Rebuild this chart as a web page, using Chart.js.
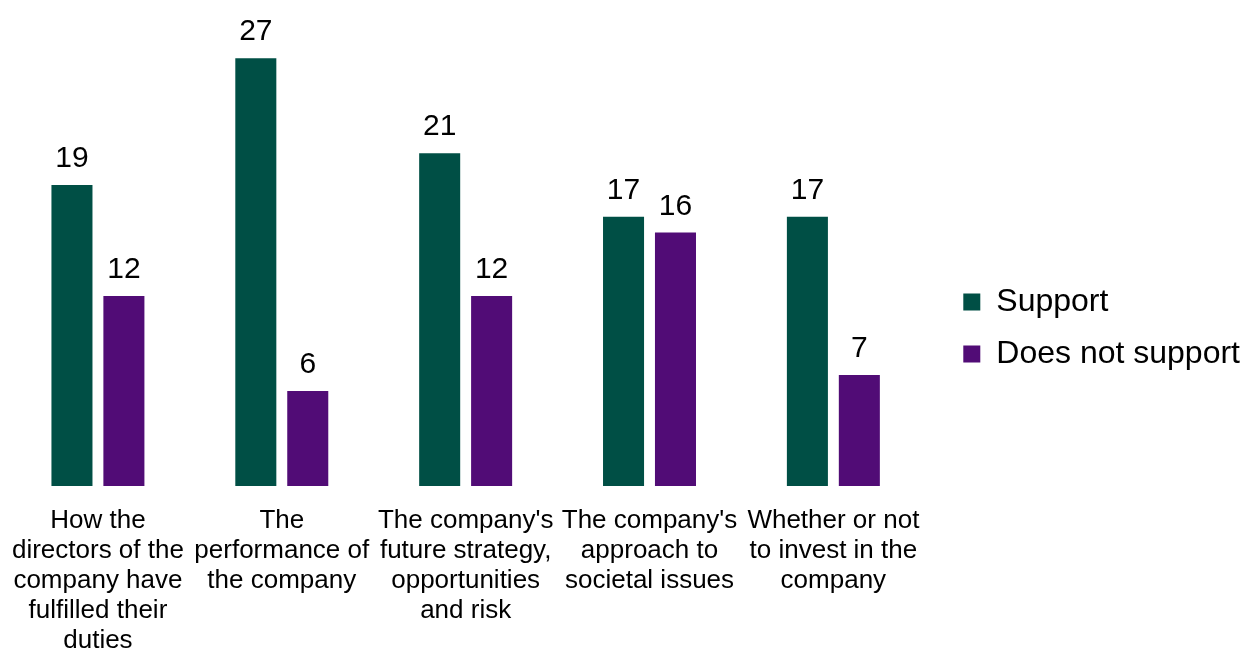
<!DOCTYPE html>
<html>
<head>
<meta charset="utf-8">
<title>Support by topic</title>
<script src="https://cdn.jsdelivr.net/npm/chart.js@4.4.1/dist/chart.umd.min.js"></script>
<style>
  html, body { margin: 0; padding: 0; background: #fff; }
  #wrap { width: 1249px; height: 650px; }
</style>
</head>
<body>
<div id="wrap"><canvas id="supportChart"></canvas></div>
<script>
const topics = [
  ['How the', 'directors of the', 'company have', 'fulfilled their', 'duties'],
  ['The', 'performance of', 'the company'],
  ["The company's", 'future strategy,', 'opportunities', 'and risk'],
  ["The company's", 'approach to', 'societal issues'],
  ['Whether or not', 'to invest in the', 'company']
];
const support = [19, 27, 21, 17, 17];
const doesNotSupport = [12, 6, 12, 16, 7];

const FONT = "'Liberation Sans', Arial, sans-serif";
const LEGEND_GAP = 18;

// value printed above each bar
const barValues = {
  id: 'barValues',
  afterDatasetsDraw(chart) {
    const ctx = chart.ctx;
    ctx.save();
    ctx.font = '30px ' + FONT;
    ctx.fillStyle = '#000';
    ctx.textAlign = 'center';
    ctx.textBaseline = 'alphabetic';
    chart.data.datasets.forEach((ds, i) => {
      chart.getDatasetMeta(i).data.forEach((bar, j) => {
        ctx.fillText(String(ds.data[j]), bar.x, bar.y - 18);
      });
    });
    ctx.restore();
  }
};

// leave some space between the plot and the legend
const legendGap = {
  id: 'legendGap',
  beforeLayout(chart) {
    const legend = chart.legend;
    if (!legend || legend._gapDone) return;
    const fit = legend.fit;
    legend.fit = function () {
      fit.call(this);
      this.width += LEGEND_GAP;
    };
    legend._gapDone = true;
  },
  afterLayout(chart) {
    if (chart.legend) chart.legend.left += LEGEND_GAP;
  }
};

new Chart(document.getElementById('supportChart'), {
  type: 'bar',
  data: {
    labels: topics,
    datasets: [
      {
        label: 'Support',
        data: support,
        backgroundColor: '#004F45',
        categoryPercentage: 0.565,
        barPercentage: 0.79
      },
      {
        label: 'Does not support',
        data: doesNotSupport,
        backgroundColor: '#510C76',
        categoryPercentage: 0.565,
        barPercentage: 0.79
      }
    ]
  },
  options: {
    responsive: true,
    maintainAspectRatio: false,
    animation: false,
    layout: { padding: { left: 6, right: -1, top: -20, bottom: -26 } },
    scales: {
      x: {
        grid: { display: false, drawTicks: false },
        border: { display: false },
        ticks: {
          color: '#000',
          font: { family: FONT, size: 26, lineHeight: '30px' },
          padding: 20,
          maxRotation: 0,
          autoSkip: false
        },
        afterFit(scale) {
          // wide labels may spill past the outer categories
          scale.paddingLeft = 0;
          scale.paddingRight = 0;
        }
      },
      y: {
        display: false,
        min: 0,
        max: 30.68
      }
    },
    plugins: {
      legend: {
        position: 'right',
        labels: {
          color: '#000',
          font: { family: FONT, size: 32 },
          boxWidth: 17,
          boxHeight: 17,
          padding: 20
        }
      },
      tooltip: { enabled: false }
    }
  },
  plugins: [barValues, legendGap]
});
</script>
</body>
</html>
